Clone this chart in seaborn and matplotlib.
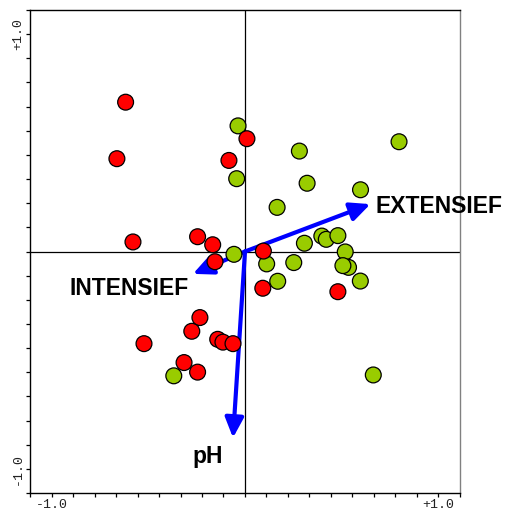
import numpy as np
import pandas as pd
import matplotlib
matplotlib.use("Agg")
import matplotlib.pyplot as plt
import seaborn as sns

# sample scores (red group)
red_x = [-0.617, -0.662, -0.579, 0.010, -0.083, -0.245, -0.167, -0.155, 0.095, 0.092,
         0.480, -0.233, -0.275, -0.522, -0.141, -0.114, -0.062, -0.315, -0.245]
red_y = [0.687, 0.427, 0.044, 0.519, 0.419, 0.068, 0.031, -0.047, 0.002, -0.169,
         -0.185, -0.304, -0.367, -0.424, -0.404, -0.417, -0.424, -0.511, -0.555]

# sample scores (green group)
green_x = [-0.036, -0.043, -0.057, 0.281, 0.321, 0.166, 0.796, 0.597, 0.307, 0.397, 0.420,
           0.480, 0.518, 0.112, 0.252, 0.535, 0.506, 0.596, 0.169, -0.368, 0.663]
green_y = [0.578, 0.335, -0.013, 0.462, 0.314, 0.203, 0.505, 0.284, 0.038, 0.071, 0.056,
           0.073, -0.002, -0.057, -0.051, -0.073, -0.065, -0.136, -0.137, -0.572, -0.568]

# variable loadings
var_names = ["EXTENSIEF", "INTENSIEF", "pH"]
var_x = [0.648, -0.269, -0.062]
var_y = [0.218, -0.103, -0.857]

df = pd.DataFrame({
    "x": green_x + red_x,
    "y": green_y + red_y,
    "group": ["green"] * len(green_x) + ["red"] * len(red_x),
})

sns.set_theme(style="ticks")
plt.rcParams["font.family"] = ["Liberation Sans", "DejaVu Sans"]

fig = plt.figure(figsize=(5.05, 5.15), dpi=100)
ax = fig.add_axes([30 / 505, 22 / 515, 430 / 505, 483 / 515])

lim = 10 / 9
ax.axhline(0, color="black", lw=0.9, zorder=1)
ax.axvline(0, color="black", lw=0.9, zorder=1)

for name, vx, vy in zip(var_names, var_x, var_y):
    ax.annotate("", xy=(vx, vy), xytext=(0, 0),
                arrowprops=dict(arrowstyle="-|>,head_length=0.6,head_width=0.28",
                                color="#0000ff", lw=3, mutation_scale=20,
                                shrinkA=0, shrinkB=0),
                zorder=2)

sns.scatterplot(data=df, x="x", y="y", hue="group",
                palette={"green": "#99cc00", "red": "#ff0000"},
                s=130, edgecolor="black", linewidth=0.9, legend=False,
                ax=ax, zorder=3)

lab_font = dict(fontsize=16.5, fontweight="bold", color="black",
                family=["Liberation Sans", "DejaVu Sans"])
ax.text(0.674, 0.209, "EXTENSIEF", ha="left", va="center", **lab_font)
ax.text(-0.290, -0.168, "INTENSIEF", ha="right", va="center", **lab_font)
ax.text(-0.194, -0.972, "pH", ha="center", va="baseline", **lab_font)

ax.set_xlim(-lim, lim)
ax.set_ylim(-lim, lim)
ticks = np.arange(-10, 11) / 9
labels = ["-1.0" if t == -9 else "+1.0" if t == 9 else "" for t in range(-10, 11)]
ax.set_xticks(ticks)
ax.set_xticklabels(labels)
ax.set_yticks(ticks)
ax.set_yticklabels(labels, rotation=90, va="center")
ax.tick_params(direction="out", length=3, width=0.9, color="black",
               labelsize=9.5, pad=1.5, labelcolor="#222222")
for lab in ax.get_xticklabels() + ax.get_yticklabels():
    lab.set_family(["Liberation Mono", "DejaVu Sans Mono"])
ax.set_xlabel("")
ax.set_ylabel("")

for side in ["left", "bottom", "top"]:
    ax.spines[side].set_color("black")
    ax.spines[side].set_linewidth(1)
ax.spines["right"].set_color("#808080")
ax.spines["right"].set_linewidth(1)

fig.savefig("out.png", dpi=100)
